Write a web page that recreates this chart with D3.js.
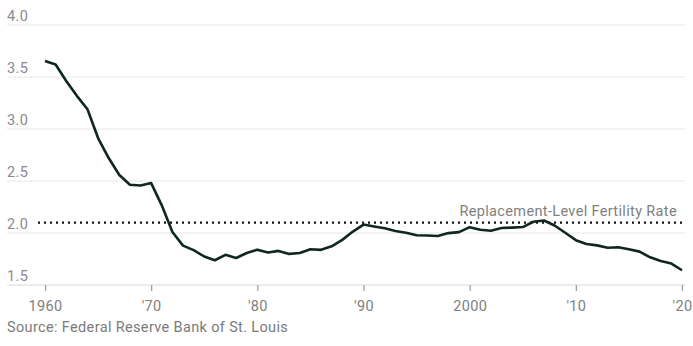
<!DOCTYPE html>
<html>
<head>
<meta charset="utf-8">
<script src="https://cdn.jsdelivr.net/npm/d3@7"></script>
<style>
  html, body { margin: 0; padding: 0; background: #fff; }
  svg { display: block; }
  text { font-family: "Roboto", "Liberation Sans", sans-serif; letter-spacing: 0.35px; }
</style>
</head>
<body>
<svg id="chart" width="693" height="346"></svg>
<script>
const years = d3.range(1960, 2021);
const fertility = [
  3.654, 3.620, 3.461, 3.319, 3.190, 2.913, 2.721, 2.558, 2.464, 2.456,
  2.480, 2.266, 2.010, 1.879, 1.835, 1.774, 1.738, 1.790, 1.760, 1.808,
  1.840, 1.812, 1.828, 1.799, 1.807, 1.844, 1.838, 1.872, 1.934, 2.014,
  2.081, 2.063, 2.046, 2.020, 2.002, 1.978, 1.976, 1.971, 1.999, 2.008,
  2.056, 2.031, 2.021, 2.048, 2.052, 2.057, 2.108, 2.120, 2.072, 2.002,
  1.931, 1.895, 1.881, 1.858, 1.863, 1.844, 1.821, 1.766, 1.730, 1.706,
  1.642
];
const replacementRate = 2.1;
const yTicks = [1.5, 2.0, 2.5, 3.0, 3.5, 4.0];
const xTicks = [1960, 1970, 1980, 1990, 2000, 2010, 2020];
const xTickLabels = ["1960", "'70", "'80", "'90", "2000", "'10", "'20"];
const annotation = "Replacement-Level Fertility Rate";
const source = "Source: Federal Reserve Bank of St. Louis";

const data = years.map((y, i) => ({ year: y, value: fertility[i] }));

const svg = d3.select("#chart");
const gridLeft = 7, gridRight = 685;
const fs = 14.5;
const x = d3.scaleLinear().domain([1960, 2020]).range([45, 682]);
const y = d3.scaleLinear().domain([1.5, 4.0]).range([285, 25]);

// gridlines
svg.append("g").selectAll("line").data(yTicks).join("line")
  .attr("x1", gridLeft).attr("x2", gridRight)
  .attr("y1", d => y(d)).attr("y2", d => y(d))
  .attr("stroke", d => d === 1.5 ? "#d9d9d9" : "#e8e8e8")
  .attr("stroke-width", 1.2);

// y labels
svg.append("g").selectAll("text").data(yTicks).join("text")
  .attr("x", gridLeft).attr("y", d => y(d) - 4)
  .attr("fill", "#8a8a8a").attr("font-size", fs)
  .text(d => d.toFixed(1));

// x axis ticks
const xAxis = d3.axisBottom(x).tickValues(xTicks).tickSize(6)
  .tickFormat((d, i) => xTickLabels[i]);
const gx = svg.append("g").attr("transform", `translate(0,${y(1.5)})`).call(xAxis);
gx.select(".domain").remove();
gx.selectAll(".tick line").attr("stroke", "#999").attr("stroke-width", 1.2);
gx.selectAll(".tick text").attr("fill", "#808080").attr("font-size", fs)
  .attr("font-family", "Roboto, 'Liberation Sans', sans-serif").attr("dy", "1.2em");

// replacement line
svg.append("line")
  .attr("x1", 38).attr("x2", gridRight)
  .attr("y1", y(replacementRate)).attr("y2", y(replacementRate))
  .attr("stroke", "#111").attr("stroke-width", 2.2)
  .attr("stroke-dasharray", "2,4");

svg.append("text")
  .attr("x", 677).attr("y", y(replacementRate) - 7)
  .attr("text-anchor", "end")
  .attr("fill", "#808080").attr("font-size", fs)
  .text(annotation);

// data line
const line = d3.line().x(d => x(d.year)).y(d => y(d.value));
svg.append("path").datum(data)
  .attr("d", line)
  .attr("fill", "none")
  .attr("stroke", "#0e2820")
  .attr("stroke-width", 2.6)
  .attr("stroke-linejoin", "round");

// source
svg.append("text")
  .attr("x", gridLeft).attr("y", 332)
  .attr("fill", "#7a7a7a").attr("font-size", fs)
  .text(source);
</script>
</body>
</html>
